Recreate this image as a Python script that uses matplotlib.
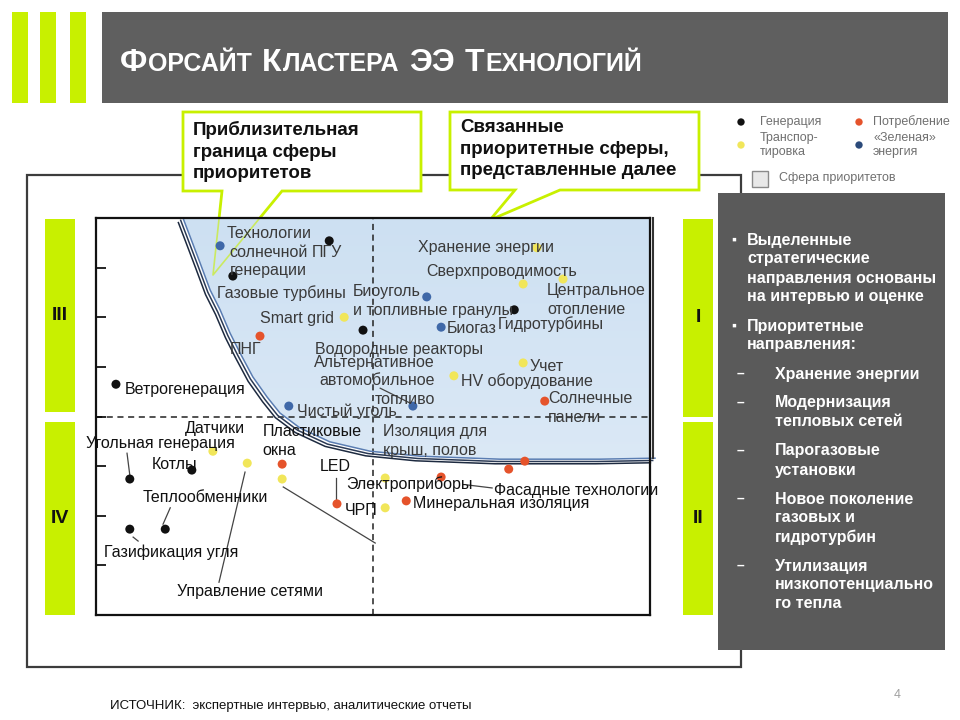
import matplotlib
matplotlib.use('Agg')
import numpy as np
import matplotlib.pyplot as plt
from matplotlib import transforms
from matplotlib.patches import Rectangle, Polygon
from matplotlib.colors import LinearSegmentedColormap

plt.rcParams['font.family'] = ['Liberation Sans', 'DejaVu Sans']

# --- данные: категории и цвета
cat_names = ['Генерация', 'Потребление', 'Транспортировка', '«Зеленая» энергия']
cat_colors = ['#111111', '#e5532b', '#f1e65a', '#3f68a8']

# --- точки по категориям (x: 0..10, y: 0..8)
gen_x = [0.36, 0.61, 1.73, 0.61, 1.25, 4.21, 2.47, 4.82, 7.55]
gen_y = [4.65, 2.74, 2.92, 1.73, 1.73, 7.54, 6.83, 5.74, 6.15]
cons_x = [2.96, 8.10, 3.36, 4.35, 6.23, 5.60, 7.45, 7.74]
cons_y = [5.62, 4.31, 3.04, 2.24, 2.78, 2.30, 2.94, 3.10]
trans_x = [4.48, 7.96, 7.71, 8.43, 7.71, 6.46, 2.11, 2.73, 3.36, 5.22, 5.22]
trans_y = [6.00, 7.40, 6.67, 6.77, 5.08, 4.82, 3.30, 3.06, 2.74, 2.76, 2.16]
green_x = [2.24, 3.48, 5.97, 6.23, 5.72]
green_y = [7.44, 4.21, 6.41, 5.80, 4.21]

# --- подписи внутри сферы приоритетов
in_labels = ['Технологии\nсолнечной\nгенерации', 'ПГУ', 'Газовые турбины', 'Smart grid', 'ПНГ',
             'Биоуголь\nи топливные гранулы', 'Водородные реакторы',
             'Альтернативное\nавтомобильное\nтопливо', 'Чистый уголь', 'Хранение энергии',
             'Сверхпроводимость', 'Центральное\nотопление', 'Биогаз', 'Гидротурбины', 'Учет',
             'HV оборудование', 'Солнечные\nпанели', 'Изоляция для\nкрыш, полов']
in_x = [3.12, 3.90, 2.18, 2.96, 2.42, 4.64, 3.95, 6.12, 3.63, 5.81,
        5.96, 8.14, 6.34, 7.26, 7.83, 6.59, 8.16, 5.18]
in_y = [7.31, 7.31, 6.49, 5.98, 5.36, 6.33, 5.36, 4.72, 4.11, 7.40,
        6.93, 6.35, 5.78, 5.86, 5.00, 4.72, 4.17, 3.51]
in_ha = ['center', 'left', 'left', 'left', 'left', 'left', 'left', 'right', 'left', 'left',
         'left', 'left', 'left', 'left', 'left', 'left', 'left', 'left']

# --- подписи вне сферы
out_labels = ['Ветрогенерация', 'Угольная генерация', 'Датчики', 'Пластиковые\nокна', 'Котлы',
              'LED', 'Электроприборы', 'Теплообменники', 'Фасадные технологии',
              'Минеральная изоляция', 'ЧРП', 'Газификация угля', 'Управление сетями']
out_x = [0.51, -0.18, 1.61, 3.01, 1.01, 4.03, 4.51, 0.85, 7.18, 5.72, 4.49, 0.14, 1.46]
out_y = [4.55, 3.46, 3.75, 3.51, 3.04, 3.00, 2.64, 2.36, 2.50, 2.24, 2.10, 1.27, 0.48]

# --- выноски (x1, y1, x2, y2)
leaders = [(0.56, 3.26, 0.61, 2.82), (1.34, 2.16, 1.21, 1.83), (0.67, 1.57, 0.76, 1.49),
           (2.69, 2.88, 2.22, 0.66), (4.33, 2.76, 4.33, 2.34), (3.38, 2.58, 5.04, 1.45),
           (6.71, 2.62, 7.15, 2.56), (5.13, 4.57, 5.67, 4.27)]

# --- граница сферы приоритетов
curve_x = [1.57, 1.70, 1.88, 2.06, 2.24, 2.42, 2.60, 2.83, 3.09, 3.32, 3.68, 4.22, 4.95, 5.85, 7.29, 9.10, 10.09]
curve_y = [8.00, 7.62, 7.09, 6.55, 6.15, 5.68, 5.28, 4.80, 4.39, 4.07, 3.77, 3.49, 3.30, 3.20, 3.14, 3.14, 3.16]

# --- правая панель
panel_items = [
    ('▪', ['Выделенные', 'стратегические', 'направления основаны', 'на интервью и оценке'], 240),
    ('▪', ['Приоритетные', 'направления:'], 326),
    ('–', ['Хранение энергии'], 374),
    ('–', ['Модернизация', 'тепловых сетей'], 403),
    ('–', ['Парогазовые', 'установки'], 451),
    ('–', ['Новое поколение', 'газовых и', 'гидротурбин'], 499),
    ('–', ['Утилизация', 'низкопотенциально', 'го тепла'], 566),
]

GREEN = '#c8f000'

fig = plt.figure(figsize=(9.6, 7.2), dpi=100)
bg = fig.add_axes([0, 0, 1, 1])
bg.set_xlim(0, 960)
bg.set_ylim(720, 0)
bg.axis('off')

# шапка
for x0 in (12, 40, 70):
    bg.add_patch(Rectangle((x0, 12), 16, 91, color=GREEN, lw=0))
bg.add_patch(Rectangle((102, 12), 846, 91, color='#5f5f5f', lw=0))

renderer = fig.canvas.get_renderer()
title_words = [[('Ф', 1), ('ОРСАЙТ', 0)], [('К', 1), ('ЛАСТЕРА', 0)], [('ЭЭ', 1)], [('Т', 1), ('ЕХНОЛОГИЙ', 0)]]
x = 120
for word in title_words:
    for part, big in word:
        t = bg.text(x, 71, part, fontsize=23 if big else 18, fontweight='bold',
                    color='white', va='baseline', ha='left')
        x += t.get_window_extent(renderer).width + 1
    x += 9

# рамка
bg.add_patch(Rectangle((27, 175), 714, 492, fill=False, ec='#3c3c3c', lw=1.6))

# квадранты
for (x0, y0, h, s) in [(45, 219, 193, 'III'), (45, 422, 193, 'IV'), (683, 219, 198, 'I'), (683, 422, 193, 'II')]:
    bg.add_patch(Rectangle((x0, y0), 30, h, color=GREEN, lw=0))
    bg.text(x0 + 15, y0 + h / 2, s, ha='center', va='center', fontsize=14, fontweight='bold', color='#111')

# выноски-облачка
c1 = [(183, 112), (421, 112), (421, 191), (282, 191), (213, 275), (222, 191), (183, 191)]
c2 = [(450, 112), (699, 112), (699, 190), (560, 190), (490, 220), (515, 190), (450, 190)]
for pts in (c1, c2):
    bg.add_patch(Polygon(pts, closed=True, fc='white', ec=GREEN, lw=2, zorder=3))
bg.text(193, 121, 'Приблизительная\nграница сферы\nприоритетов', va='top', ha='left',
        fontsize=13.5, fontweight='bold', color='#111', linespacing=1.35, zorder=4)
bg.text(460, 119, 'Связанные\nприоритетные сферы,\nпредставленные далее', va='top', ha='left',
        fontsize=13.5, fontweight='bold', color='#111', linespacing=1.35, zorder=4)

# легенда
leg_pos = [(741, 122, 760, 'Генерация'), (859, 122, 873, 'Потребление'),
           (741, 145, 760, 'Транспор-\nтировка'), (859, 145, 873, '«Зеленая»\nэнергия')]
leg_colors = [cat_colors[0], cat_colors[1], cat_colors[2], '#2b4a7a']
for (mx, my, tx, s), c in zip(leg_pos, leg_colors):
    bg.scatter([mx], [my], s=28, color=c, edgecolors='none')
    bg.text(tx, my, s, va='center', ha='left', fontsize=9, color='#707070', linespacing=1.3)
bg.add_patch(Rectangle((752, 171), 16, 16, fc='#e8e8e8', ec='#8a8a8a', lw=1))
bg.text(779, 178, 'Сфера приоритетов', va='center', ha='left', fontsize=9, color='#707070')

# правая панель
bg.add_patch(Rectangle((718, 193), 227, 457, color='#5a5a5a', lw=0, zorder=5))
for mark, lines, y0 in panel_items:
    if mark == '▪':
        mx, tx = 731, 747
    else:
        mx, tx = 737, 775
    bg.text(mx, y0, mark, va='center', ha='left', fontsize=10, fontweight='bold', color='white', zorder=6)
    for i, s in enumerate(lines):
        bg.text(tx, y0 + 19 * i, s, va='center', ha='left', fontsize=11.5, fontweight='bold',
                color='white', zorder=6)

# подвал
bg.text(110, 706, 'ИСТОЧНИК:  экспертные интервью, аналитические отчеты', va='center', ha='left',
        fontsize=9.5, color='#111')
bg.text(897, 695, '4', va='center', ha='center', fontsize=9, color='#a0a0a0')

# --- график
ax = fig.add_axes([96 / 960, (720 - 615) / 720, (650 - 96) / 960, (615 - 218) / 720])
ax.set_facecolor('white')

region = Polygon(np.c_[curve_x + [10, curve_x[0]], curve_y + [8, 8]], closed=True,
                 fc='none', ec='none')
ax.add_patch(region)
grad = np.linspace(0, 1, 256).reshape(-1, 1)
cmap = LinearSegmentedColormap.from_list('sky', ['#e4eef8', '#cde0f2'])
im = ax.imshow(grad, extent=[0, 10, 0, 8], origin='lower', cmap=cmap, aspect='auto', zorder=0)
im.set_clip_path(region)

# хвост выноски над заливкой
ax.plot([222, 213, 282], [191, 275, 191], color=GREEN, lw=1.2, alpha=0.6,
        transform=bg.transData, zorder=1)

for k, c in enumerate(['#5a7db2', '#2b3a55', '#1d2a40']):
    tr = transforms.offset_copy(ax.transData, fig=fig, x=-2.3 * k, y=-2.3 * k, units='dots')
    ax.plot(curve_x, curve_y, color=c, lw=1.1, transform=tr, clip_on=False, zorder=2)
tr = transforms.offset_copy(ax.transData, fig=fig, x=3, y=0, units='dots')
ax.plot([10, 10], [curve_y[-1], 8], color='#333333', lw=1.5, transform=tr, clip_on=False, zorder=2)

ax.axvline(5, color='#222222', lw=1.1, ls=(0, (4, 3)), zorder=1)
ax.axhline(4, color='#222222', lw=1.1, ls=(0, (4, 3)), zorder=1)

for x1, y1, x2, y2 in leaders:
    ax.plot([x1, x2], [y1, y2], color='#444444', lw=0.9, zorder=3)

for xs, ys, c in zip([gen_x, cons_x, trans_x, green_x], [gen_y, cons_y, trans_y, green_y], cat_colors):
    ax.scatter(xs, ys, s=42, color=c, edgecolors='none', zorder=4)

for s, x, y, ha in zip(in_labels, in_x, in_y, in_ha):
    ax.text(x, y, s, ha=ha, va='center', fontsize=11.5, color='#3a3a3a', linespacing=1.3,
            multialignment=ha, zorder=5)
for s, x, y in zip(out_labels, out_x, out_y):
    ax.text(x, y, s, ha='left', va='center', fontsize=11.5, color='#111111', linespacing=1.3, zorder=5)

ax.set_xlim(0, 10)
ax.set_ylim(0, 8)
ax.set_xticks([])
ax.set_yticks(range(1, 8))
ax.tick_params(axis='y', direction='in', length=7, width=1.2, labelleft=False)
for sp in ax.spines.values():
    sp.set_linewidth(1.6)
    sp.set_color('#111111')

fig.savefig('out.png', dpi=100)
